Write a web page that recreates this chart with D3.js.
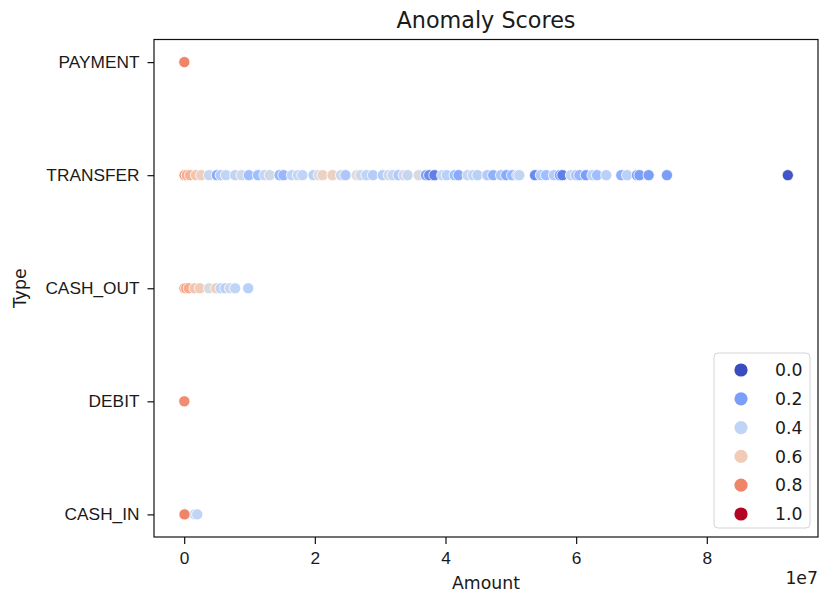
<!DOCTYPE html>
<html>
<head>
<meta charset="utf-8">
<script src="https://cdn.jsdelivr.net/npm/d3@7"></script>
<style>
  body { margin: 0; background: #fff; }
  svg { display: block; font-family: "DejaVu Sans", sans-serif; }
  .axis text { font-size: 17.3px; fill: #1a1a1a; }
  .axis path, .axis line { stroke: #111; stroke-width: 1.2; }
</style>
</head>
<body>
<svg id="chart" width="820" height="595"></svg>
<script>
const types = ["PAYMENT", "TRANSFER", "CASH_OUT", "DEBIT", "CASH_IN"];
const xTicks = [0, 2e7, 4e7, 6e7, 8e7];
const legendValues = [0.0, 0.2, 0.4, 0.6, 0.8, 1.0];
// coolwarm sampled at 0, 0.1 ... 1
const coolwarm = ["#3b4cc0", "#5977e3", "#7b9ff9", "#9ebeff", "#c0d4f5", "#dddcdc",
  "#f2cbb7", "#f7ac8e", "#ee8468", "#d65244", "#b40426"];

// amounts in millions, anomaly score
const paymentAmounts = [0.02];
const paymentScores = [0.80];
const debitAmounts = [0.02];
const debitScores = [0.78];
const cashInAmounts = [1.6, 2.0, 0.05];
const cashInScores = [0.42, 0.40, 0.80];
const cashOutAmounts = [0.05, 0.3, 0.7, 1.6, 2.4, 3.8, 4.9, 5.6, 6.3, 7.0, 7.8, 9.8];
const cashOutScores = [0.76, 0.74, 0.70, 0.62, 0.60, 0.48, 0.58, 0.40, 0.38, 0.44, 0.40, 0.38];
const transferAmounts = [0.05, 0.4, 0.9, 1.8, 2.6, 3.8, 5.0, 5.6, 6.4, 7.8, 8.8, 9.9, 11.3, 12.3,
  13.1, 14.6, 15.2, 16.5, 17.4, 18.1, 19.8, 20.6, 21.2, 22.7, 24.0, 24.7, 26.4, 27.0, 27.9,
  28.9, 30.4, 31.3, 31.9, 32.8, 33.6, 34.2, 35.9, 37.0, 37.5, 38.3, 39.5, 40.2, 41.4, 42.0,
  43.4, 44.2, 44.9, 46.4, 47.3, 48.5, 49.3, 50.2, 51.0, 51.3, 53.7, 54.6, 55.4, 56.6, 57.5,
  57.9, 59.2, 60.0, 60.5, 61.5, 62.5, 63.2, 64.6, 66.9, 67.8, 69.3, 69.7, 71.1, 73.9, 92.4];
const transferScores = [0.74, 0.70, 0.68, 0.62, 0.58, 0.42, 0.24, 0.36, 0.40, 0.40, 0.45, 0.30,
  0.30, 0.42, 0.45, 0.28, 0.28, 0.40, 0.42, 0.40, 0.38, 0.48, 0.56, 0.57, 0.44, 0.34, 0.50,
  0.45, 0.40, 0.37, 0.37, 0.44, 0.42, 0.35, 0.45, 0.42, 0.48, 0.22, 0.16, 0.12, 0.42, 0.38,
  0.30, 0.24, 0.42, 0.40, 0.38, 0.36, 0.26, 0.34, 0.24, 0.28, 0.35, 0.40, 0.15, 0.36, 0.30,
  0.36, 0.22, 0.12, 0.42, 0.33, 0.28, 0.20, 0.38, 0.30, 0.38, 0.25, 0.38, 0.22, 0.20, 0.20,
  0.20, 0.02];

function rows(type, amounts, scores) {
  return amounts.map((a, i) => ({ type, amount: a * 1e6, score: scores[i] }));
}

const points = [
  ...rows("PAYMENT", paymentAmounts, paymentScores),
  ...rows("TRANSFER", transferAmounts, transferScores),
  ...rows("CASH_OUT", cashOutAmounts, cashOutScores),
  ...rows("DEBIT", debitAmounts, debitScores),
  ...rows("CASH_IN", cashInAmounts, cashInScores)
];

const svg = d3.select("#chart");
const plot = { left: 154, right: 818, top: 39.5, bottom: 537 };

const xMax = d3.max(points, d => d.amount);
const pad = xMax * 0.05;
const x = d3.scaleLinear().domain([-pad, xMax + pad]).range([plot.left, plot.right]);
const y = d3.scalePoint().domain(types).range([plot.top, plot.bottom]).padding(0.2);
const color = d3.scaleLinear().domain(d3.range(11).map(i => i / 10)).range(coolwarm);

svg.append("g")
  .selectAll("circle")
  .data(points)
  .join("circle")
  .attr("cx", d => x(d.amount))
  .attr("cy", d => y(d.type))
  .attr("r", 5.6)
  .attr("fill", d => color(d.score))
  .attr("stroke", "#fff")
  .attr("stroke-width", 0.8);

svg.append("g")
  .attr("class", "axis")
  .attr("transform", `translate(0,${plot.bottom})`)
  .call(d3.axisBottom(x).tickValues(xTicks).tickFormat(d => d / 1e7).tickSize(7).tickPadding(7.5).tickSizeOuter(0))
  .call(g => g.select(".domain").remove());

svg.append("g")
  .attr("class", "axis")
  .attr("transform", `translate(${plot.left},0)`)
  .call(d3.axisLeft(y).tickSize(6.5).tickPadding(8).tickSizeOuter(0))
  .call(g => g.select(".domain").remove());

svg.append("rect")
  .attr("x", plot.left).attr("y", plot.top)
  .attr("width", plot.right - plot.left).attr("height", plot.bottom - plot.top)
  .attr("fill", "none").attr("stroke", "#111").attr("stroke-width", 1.2);

svg.append("text")
  .attr("x", (plot.left + plot.right) / 2).attr("y", 28)
  .attr("text-anchor", "middle").attr("font-size", 22.3).attr("fill", "#1a1a1a")
  .text("Anomaly Scores");

svg.append("text")
  .attr("x", (plot.left + plot.right) / 2).attr("y", 589)
  .attr("text-anchor", "middle").attr("font-size", 17.3).attr("fill", "#1a1a1a")
  .text("Amount");

svg.append("text")
  .attr("x", plot.right).attr("y", 584)
  .attr("text-anchor", "end").attr("font-size", 17.3).attr("fill", "#1a1a1a")
  .text("1e7");

svg.append("text")
  .attr("transform", `translate(26,${(plot.top + plot.bottom) / 2}) rotate(-90)`)
  .attr("text-anchor", "middle").attr("font-size", 17.3).attr("fill", "#1a1a1a")
  .text("Type");

const legend = svg.append("g").attr("transform", "translate(714,353)");
legend.append("rect")
  .attr("width", 96).attr("height", 175).attr("rx", 4)
  .attr("fill", "#fff").attr("fill-opacity", 0.8)
  .attr("stroke", "#d5d5d5").attr("stroke-width", 1);
const item = legend.selectAll("g.item")
  .data(legendValues)
  .join("g")
  .attr("class", "item")
  .attr("transform", (d, i) => `translate(0,${17 + i * 28.8})`);
item.append("circle")
  .attr("cx", 27).attr("r", 6.6)
  .attr("fill", d => color(d));
item.append("text")
  .attr("x", 61).attr("dy", "0.36em")
  .attr("font-size", 17.3).attr("fill", "#1a1a1a")
  .text(d => d3.format(".1f")(d));
</script>
</body>
</html>
